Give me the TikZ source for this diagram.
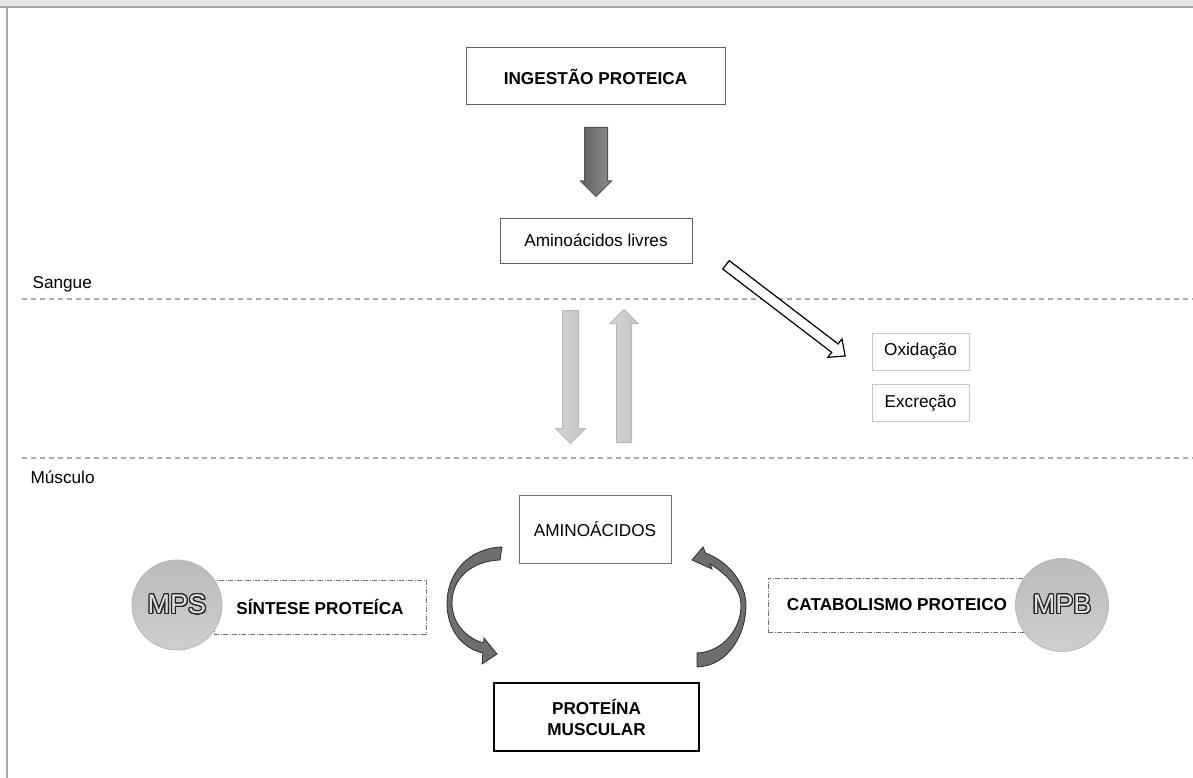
\documentclass[tikz,border=0pt]{standalone}
\usepackage{fontspec}
\setmainfont{Liberation Sans}
\usepackage{contour}
\contourlength{1.1pt}
\contournumber{24}
\usetikzlibrary{positioning,calc,shapes.arrows}
\tikzset{
  my text/.style={font=\fontsize{17.2}{21}\selectfont},
  my bold/.style={font=\fontsize{17.2}{21}\selectfont\bfseries},
  my box/.style={
    draw=black!62,
    line width=1pt,
    fill=white,
    inner sep=0pt,
    my text
  },
  my light box/.style={my box,draw=black!22,line width=0.9pt},
  my dash box/.style={
    my box,
    my bold,
    draw=black!55,
    line width=0.9pt,
    dash pattern=on 5pt off 1.5pt on 1pt off 1.5pt
  },
  my ball/.style={
    circle,
    draw=black!28,
    line width=0.8pt,
    top color=black!27,
    bottom color=black!19,
    inner sep=0pt,
    font=\fontsize{27}{27}\selectfont
  },
  my arrow/.style={
    single arrow,
    anchor=tail,
    inner xsep=0pt,
    line width=1pt,
    single arrow tip angle=90
  },
  my ribbon/.style={fill=black!57,draw=black!82,line width=0.8pt},
  my border/.style={draw=black!33,dash pattern=on 5pt off 4pt,line width=1.8pt}
}

\begin{document}
\begin{tikzpicture}[x=1pt,y=-1pt]
\useasboundingbox (0,0) rectangle (1193,778);
% Frame
\fill[black!10] (0,0) rectangle (1193,7);
\draw[black!35,line width=2pt] (0,7.5) -- (1193,7.5);
\draw[black!35,line width=2pt] (6.5,7.5) -- (6.5,778);
% Compartments
\node[my text,anchor=base west] (sangue)  at (29,288) {Sangue};
\node[my text,anchor=base west] (musculo) at (27,483) {Músculo};
\coordinate (sangue l) at (22,299);   \coordinate (sangue r) at (1193,299);
\coordinate (musculo l) at (22,458);  \coordinate (musculo r) at (1193,458);
\draw[my border] (sangue l) -- (sangue r);
\draw[my border] (musculo l) -- (musculo r);
% Blood
\node[my box,my bold,minimum width=259pt,minimum height=57pt] (ingestao) at (595.5,76.5) {INGESTÃO PROTEICA};
\node[my box,minimum width=192pt,minimum height=45pt]          (livres)   at (596,240.5) {Aminoácidos livres};
\node[my light box,minimum width=97pt,minimum height=37pt]     (oxidacao) at (920.5,351.5) {Oxidação};
\node[my light box,minimum width=97pt,minimum height=37pt,below=14pt of oxidacao] (excrecao) {Excreção};
\node[my arrow,rotate=-90,minimum height=69pt,inner ysep=11pt,single arrow head extend=4pt,
      draw=black!68,left color=black!62,right color=black!45] (desce) at (596,127) {};
\node[my arrow,rotate=-37.4,minimum height=150pt,inner ysep=4.7pt,single arrow head extend=6.3pt,
      single arrow tip angle=84,draw=black,fill=white,line width=1.2pt] (sai) at (725.5,264.5) {};
% Exchange
\node[my arrow,rotate=-90,minimum height=133pt,inner ysep=7.5pt,single arrow head extend=7pt,
      draw=black!28,left color=black!16,right color=black!24] (vai) at (570.5,310) {};
\node[my arrow,rotate=90,minimum height=133pt,inner ysep=7pt,single arrow head extend=6.5pt,
      draw=black!28,left color=black!16,right color=black!24] (volta) at (624,443) {};
% Muscle
\node[my box,draw=black!55,minimum width=152pt,minimum height=68pt] (amino) at (595,529) {AMINOÁCIDOS};
\node[my box,my bold,draw=black,line width=2pt,align=center,minimum width=205pt,minimum height=68pt]
      (proteina) at (596.5,717) {PROTEÍNA\\MUSCULAR};
\node[my dash box,minimum width=212pt,minimum height=54pt] (sintese)     at (320,607) {SÍNTESE PROTEÍCA};
\node[my dash box,minimum width=258pt,minimum height=54pt] (catabolismo) at (897,605) {CATABOLISMO PROTEICO};
\node[my ball,minimum size=90pt] (mps) at (177,605)  {\contour{black!85}{\textcolor{white!88!black}{MPS}}};
\node[my ball,minimum size=93pt] (mpb) at (1062,605) {\contour{black!85}{\textcolor{white!88!black}{MPB}}};
% Cycle
\draw[my ribbon] (502,547) .. controls (468,548) and (447,574) .. (447,603)
  .. controls (447,630) and (462,648) .. (482.8,653) -- (482,664) -- (497,654) -- (484,638) -- (483.6,643)
  .. controls (466,638) and (452,623) .. (452,603) .. controls (452,578) and (472,561) .. (500,560) -- cycle;
\draw[my ribbon] (697,667) .. controls (728,666) and (746,635) .. (746,605)
  .. controls (746,585) and (730,562) .. (705.5,553) -- (703,547) -- (692,560) -- (712,569) -- (710,564)
  .. controls (728,575) and (741,590) .. (741,605) .. controls (741,630) and (722,652) .. (697,653) -- cycle;
\end{tikzpicture}
\end{document}
